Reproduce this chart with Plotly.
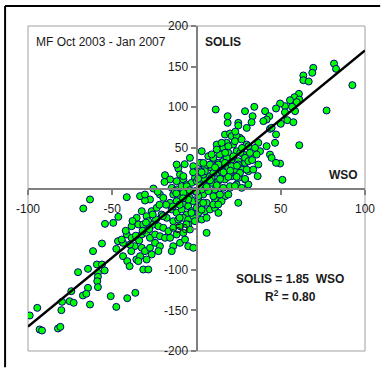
import plotly.graph_objects as go

# ---- data ----
wso_tail = [-56.1, -61.4, -46.6, -43.6, -36.7, -47.6, -38.7, -43.6, -41.1, -39.7,
            -35.7, -70.3, -64.4, -59.1, -56.1, -58.5, -58.5, -58.9, -54.5, -58.5,
            -64.4, -74.3, -67.4, -65.4, -75.3, -72.9, -79.8, -63.2, -80.2, -94.5,
            -99.0, -93.1, -91.7, -82.2, -80.8, -50.9, -47.6, -41.1, -36.3]
solis_tail = [-67.7, -77.1, -64.8, -66.9, -71.0, -74.3, -77.1, -83.3, -89.4, -95.6,
              -87.4, -103.0, -98.9, -93.5, -93.5, -103.8, -108.7, -114.1, -100.9, -121.4,
              -122.3, -126.4, -131.7, -129.6, -138.7, -140.7, -139.5, -142.8, -149.7, -146.9,
              -156.3, -173.5, -174.8, -172.3, -170.3, -132.5, -145.7, -135.0, -128.4]

wso_low = [-63.2, -67.2, -41.4, -25.6, -27.6, -30.6, -33.5, -30.6, -21.7, -19.7,
           -16.7, -46.4, -49.4, -54.3, -38.5, -35.5, -32.5, -29.6, -26.6, -23.6,
           -20.7, -17.7, -34.5, -31.6, -28.6, -25.6, -22.6, -19.7, -16.7, -41.4,
           -38.5, -44.4, -39.5, -35.5, -32.5, -29.6, -27.6, -24.6, -21.7, -18.7,
           -32.5, -30.6, -27.6, -24.6, -21.7, -33.5, -29.6, -26.6, -22.6, -34.5,
           -31.6, -28.6]
solis_low = [-13.5, -24.6, -10.7, 0.0, -13.5, -14.8, -9.4, -7.4, -7.4, -11.5,
             -19.7, -34.9, -42.3, -43.5, -46.4, -36.1, -27.9, -34.1, -27.9, -23.8,
             -32.0, -36.1, -44.3, -44.3, -40.2, -44.3, -46.4, -48.4, -52.5, -56.6,
             -60.7, -62.8, -69.0, -60.7, -56.6, -54.6, -60.7, -56.6, -58.7, -60.7,
             -73.0, -77.1, -73.0, -66.9, -71.0, -83.3, -87.4, -81.2, -77.1, -89.4,
             -99.7, -99.7]

wso_mid = [-3.9, -10.8, -9.8, -18.7, -15.7, -11.8, -7.8, -14.7, -11.8, -8.8,
           -5.8, -2.9, -0.9, 2.1, 4.0, 5.0, -13.8, -9.8, -6.8, -3.9,
           -0.9, 2.1, 6.0, -15.7, -11.8, -7.8, -4.9, -1.9, 1.1, 4.0,
           -14.7, -11.8, -8.8, -5.8, -2.9, 0.1, 3.1, 6.0, -13.8, -10.8,
           -7.8, -4.9, -1.9, 1.1, 5.0, -13.8, -9.8, -4.9, -0.9, 3.1,
           -15.7, -11.8, -7.8, -3.9, 6.0, -13.8, -9.8, -6.8, -4.9, -1.9,
           -14.7, 8.0, 10.9, 13.0, 6.0, 10.9, 19.9, 16.9, 24.8]
solis_mid = [37.7, 24.6, 17.2, 16.4, 11.1, 9.0, 11.1, 0.8, -1.2, 2.9,
             4.9, 7.0, 13.1, 21.3, 29.5, 11.1, -7.4, -9.4, -5.3, -11.5,
             -3.3, -1.2, 0.8, -17.6, -15.6, -19.7, -21.7, -15.6, -13.5, -7.4,
             -25.8, -29.9, -25.8, -32.0, -27.9, -23.8, -19.7, -17.6, -40.2, -38.2,
             -36.1, -38.2, -34.1, -29.9, -27.9, -48.4, -46.4, -44.3, -40.2, -38.2,
             -60.7, -56.6, -54.6, -50.5, -54.6, -71.0, -66.9, -62.8, -71.0, -73.0,
             -77.1, -25.9, -23.8, -30.0, -36.1, -12.7, 0.8, -9.4, -17.6]

wso_core = [16.9, 19.9, 25.8, 21.8, 17.9, 13.0, 15.9, 29.8, 3.1, 2.1,
            7.0, 10.0, 13.9, 18.9, 23.8, 27.8, 9.0, 12.9, 15.9, 20.9,
            24.8, 28.8, 8.0, 11.9, 14.9, 18.9, 22.8, 26.8, 30.8, 9.0,
            12.9, 16.9, 20.9, 24.8, 28.8, 7.0, 11.0, 15.9, 19.9, 23.8,
            26.8, 30.8, 10.0, 13.9, 18.9, 22.8, 10.0, 14.9, 12.9, -11.8,
            -1.9, 5.0, 0.1, 4.0, -7.8, 0.1, -5.8, 3.1, -7.8, 1.1,
            -4.9, 4.0, -12.8]
solis_core = [66.4, 67.7, 62.3, 54.1, 56.2, 52.1, 50.0, 54.1, 45.9, 31.6,
              39.8, 35.7, 41.8, 43.9, 45.9, 41.8, 25.4, 31.6, 33.6, 35.7,
              33.6, 31.6, 15.2, 19.3, 23.4, 25.4, 23.4, 23.4, 21.3, 7.0,
              9.0, 11.1, 15.2, 13.1, 11.1, -3.3, -1.3, 0.8, 2.8, 4.9,
              0.8, 4.9, -9.5, -7.4, -7.4, 3.0, -19.7, -15.6, -19.7, 29.5,
              27.5, 27.5, 21.3, 17.2, 15.2, 9.0, 2.8, -1.3, -5.4, -9.5,
              -13.6, -17.7, -3.3]

wso_upper = [11.4, 18.5, 18.5, 28.8, 34.3, 33.3, 32.7, 24.8, 24.8, 29.8,
             43.6, 44.6, 49.6, 47.2, 36.7, 37.7, 20.9, 23.8, 26.8, 22.8,
             12.0, 14.9, 12.0, 18.9, 30.8, 34.7, 31.7, 35.7, 10.0, 17.9,
             21.9, 28.8, 4.1, 8.0, 13.0, 16.9, 20.9, 24.8, 30.8, 5.0,
             10.0, 14.9, 19.9, 25.8, 29.8, 36.7, 9.0, 14.0, 18.9, 23.8,
             28.8, 33.7, 36.3, 33.0]
solis_upper = [97.2, 89.0, 80.8, 95.1, 100.5, 89.0, 81.6, 80.8, 77.5, 74.6,
               41.8, 37.7, 30.7, 31.6, 56.2, 45.9, 64.4, 64.4, 60.3, 58.2,
               54.1, 56.2, 48.0, 52.0, 52.0, 50.0, 43.8, 41.8, 37.7, 37.7,
               39.7, 37.7, 31.5, 29.5, 29.5, 31.5, 27.4, 29.5, 33.6, 21.3,
               19.2, 21.3, 19.2, 19.2, 23.3, 29.5, 13.1, 11.8, 14.3, 14.3,
               11.8, 23.3, 15.2, 35.0]

wso_right = [81.6, 82.8, 69.3, 68.7, 63.4, 63.4, 66.6, 92.5, 77.2, 60.8,
             58.1, 61.0, 55.5, 59.5, 56.7, 58.5, 52.5, 49.6, 47.2, 52.5,
             40.7, 43.2, 41.6, 39.7, 53.9, 57.5, 50.0, 43.6, 44.6, 47.2,
             46.6, 41.6, 61.0, 51.0]
solis_right = [153.8, 147.3, 148.5, 142.4, 139.1, 133.3, 131.7, 127.2, 96.0, 116.5,
               112.4, 109.5, 108.7, 106.3, 100.5, 95.2, 101.3, 104.6, 98.5, 93.9,
               95.2, 89.0, 84.9, 82.9, 84.1, 81.6, 79.6, 73.4, 74.7, 66.5,
               56.2, 52.1, 53.3, 10.7]

wso_extra = [-10, -8, -4, 0, 2, 6, 8, 12, 16, 20,
             24, 26, -12, -14, -18, -20, -22, -24, -26, -28,
             -30, -32, -34, -36, -38, -42, -10, -6, -3, 3,
             1, 3, 9, 11, 17, 23, 27, -2, -7, -19, -23]
solis_extra = [-20, -12, -2, -4, 4, 2, 10, 4, 20, 22,
               28, 44, -6, -22, -20, -34, -20, -38, -32, -50,
               -42, -52, -64, -58, -40, -52, -36, -44, -30, -26,
               12, 20, 42, 26, 44, 70, 50, 20, 30, 8, -4]

wso = wso_tail + wso_low + wso_mid + wso_core + wso_upper + wso_right + wso_extra
solis = solis_tail + solis_low + solis_mid + solis_core + solis_upper + solis_right + solis_extra

fit_x = [-100, 100]
fit_y = [-170, 170]

x_ticks = [-100, -50, 50, 100]
y_ticks = [-200, -150, -100, -50, 50, 100, 150, 200]

FONT = "Arial, Liberation Sans, sans-serif"

fig = go.Figure()
fig.add_trace(go.Scatter(
    x=wso, y=solis, mode="markers",
    marker=dict(size=7, color="#00ff00", line=dict(color="#000080", width=1)),
    hoverinfo="skip", showlegend=False,
))
fig.add_trace(go.Scatter(
    x=fit_x, y=fit_y, mode="lines",
    line=dict(color="black", width=2.5),
    hoverinfo="skip", showlegend=False,
))

# outer chart-area frame: only its left and top edges are inside the picture
frame_left = -0.068
frame_top = 1.0615
frame_right = 1.045
frame_bottom = -0.05

fig.update_layout(
    width=382, height=368,
    margin=dict(l=28, r=17, t=26, b=17),
    paper_bgcolor="white", plot_bgcolor="white",
    font=dict(family=FONT, size=12, color="#1a1a1a"),
    showlegend=False,
    xaxis=dict(
        range=[-100, 100], anchor="free", position=0.5,
        showline=True, linecolor="#808080", linewidth=2,
        ticks="outside", ticklen=5, tickwidth=1.5, tickcolor="#808080",
        tickvals=x_ticks, ticktext=[str(v) for v in x_ticks],
        ticklabelstandoff=4,
        showgrid=False, zeroline=False, fixedrange=True, automargin=False,
        tickfont=dict(size=12, color="#1a1a1a"),
    ),
    yaxis=dict(
        range=[-200, 200], anchor="free", position=0.5,
        showline=True, linecolor="#808080", linewidth=2,
        ticks="outside", ticklen=5, tickwidth=1.5, tickcolor="#808080",
        tickvals=y_ticks, ticktext=[str(v) for v in y_ticks],
        showgrid=False, zeroline=False, fixedrange=True, automargin=False,
        tickfont=dict(size=12, color="#1a1a1a"),
    ),
    shapes=[
        dict(type="rect", xref="paper", yref="paper", x0=0, x1=1, y0=0, y1=1,
             line=dict(color="#a0a0a0", width=1), layer="below"),
        dict(type="line", xref="paper", yref="paper",
             x0=frame_left, x1=frame_left, y0=frame_bottom, y1=frame_top,
             line=dict(color="black", width=2)),
        dict(type="line", xref="paper", yref="paper",
             x0=frame_left, x1=frame_right, y0=frame_top, y1=frame_top,
             line=dict(color="black", width=2)),
    ],
    annotations=[
        dict(x=-96.4, y=179.7, xref="x", yref="y", text="MF Oct 2003 - Jan 2007",
             showarrow=False, xanchor="left", yanchor="middle",
             font=dict(size=12, family=FONT, color="#1a1a1a")),
        dict(x=3.9, y=179.7, xref="x", yref="y", text="<b>SOLIS</b>",
             showarrow=False, xanchor="left", yanchor="middle",
             font=dict(size=12, family=FONT, color="#1a1a1a")),
        dict(x=97, y=16.4, xref="x", yref="y", text="<b>WSO</b>",
             showarrow=False, xanchor="right", yanchor="middle",
             font=dict(size=12, family=FONT, color="#1a1a1a")),
        dict(x=55.5, y=-110.8, xref="x", yref="y", text="<b>SOLIS = 1.85  WSO</b>",
             showarrow=False, xanchor="center", yanchor="middle",
             font=dict(size=12, family=FONT, color="#1a1a1a")),
        dict(x=55.5, y=-131.7, xref="x", yref="y", text="<b>R<sup>2</sup> = 0.80</b>",
             showarrow=False, xanchor="center", yanchor="middle",
             font=dict(size=12, family=FONT, color="#1a1a1a")),
    ],
)

fig.write_html("out.html", config={"displayModeBar": False})
